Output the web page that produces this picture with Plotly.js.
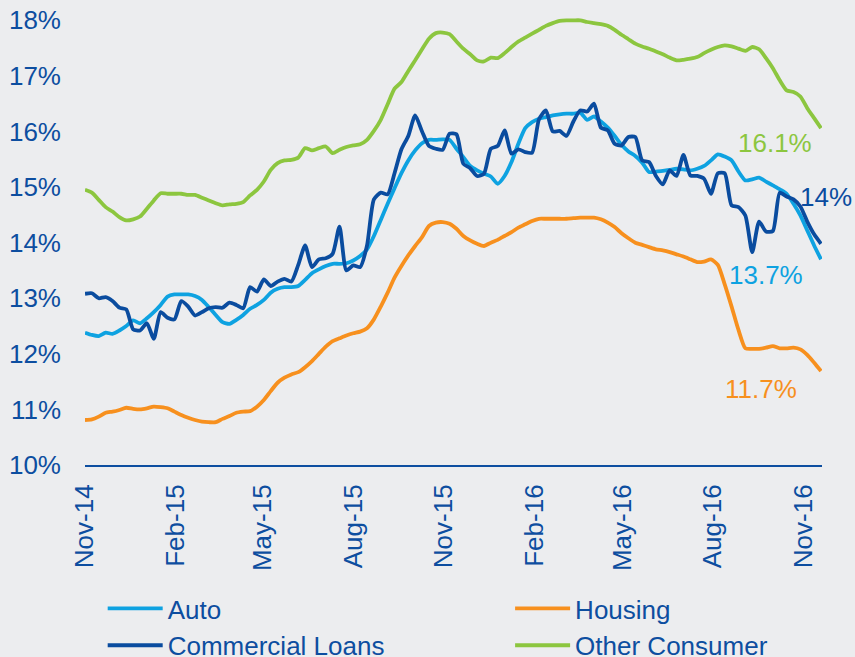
<!DOCTYPE html>
<html>
<head>
<meta charset="utf-8">
<script src="https://cdn.plot.ly/plotly-3.0.1.min.js"></script>
<style>
html,body{margin:0;padding:0;background:#ECEDEF;}
#chart{width:855px;height:657px;}
</style>
</head>
<body>
<div id="chart"></div>
<script>
// Weekly observations starting 1 Nov 2014
var startDate = '2014-11-01';
var stepDays = 7;

var auto = [12.38,12.34,12.32,12.38,12.36,12.42,12.50,12.60,12.55,12.64,
12.75,12.88,13.03,13.07,13.07,13.07,13.04,12.97,12.84,12.70,
12.57,12.54,12.61,12.70,12.81,12.88,12.97,13.10,13.17,13.20,
13.20,13.22,13.33,13.45,13.52,13.58,13.62,13.62,13.63,13.68,
13.76,13.88,14.12,14.41,14.70,14.98,15.25,15.48,15.66,15.79,
15.85,15.85,15.86,15.85,15.69,15.54,15.38,15.30,15.24,15.19,
15.06,15.20,15.45,15.78,16.06,16.17,16.23,16.26,16.29,16.31,
16.32,16.32,16.34,16.21,16.27,16.18,16.07,15.92,15.76,15.64,
15.56,15.44,15.27,15.28,15.29,15.31,15.33,15.32,15.30,15.33,
15.38,15.48,15.59,15.55,15.48,15.28,15.12,15.14,15.17,15.10,
15.03,14.96,14.88,14.70,14.49,14.22,13.95,13.70];

var housing = [10.81,10.82,10.87,10.94,10.96,10.99,11.03,11.01,11.00,11.02,
11.05,11.04,11.02,10.96,10.90,10.85,10.81,10.78,10.77,10.77,
10.83,10.88,10.94,10.96,10.97,11.05,11.17,11.33,11.48,11.57,
11.63,11.67,11.76,11.87,12.00,12.13,12.23,12.28,12.33,12.37,
12.40,12.46,12.62,12.85,13.10,13.37,13.58,13.77,13.94,14.10,
14.30,14.36,14.37,14.34,14.25,14.12,14.04,13.98,13.94,14.00,
14.05,14.12,14.19,14.27,14.33,14.39,14.43,14.43,14.43,14.43,
14.43,14.44,14.45,14.45,14.45,14.42,14.36,14.28,14.17,14.08,
14.00,13.96,13.92,13.88,13.86,13.83,13.79,13.75,13.70,13.65,
13.66,13.70,13.60,13.25,12.85,12.43,12.10,12.09,12.09,12.11,
12.14,12.10,12.10,12.11,12.08,11.98,11.84,11.69];

var commercial = [13.08,13.09,13.00,13.02,12.95,12.83,12.80,12.44,12.42,12.55,
12.27,12.75,12.65,12.62,12.95,12.85,12.69,12.75,12.82,12.84,
12.83,12.92,12.88,12.82,13.20,13.12,13.34,13.22,13.30,13.35,
13.30,13.60,13.95,13.56,13.70,13.72,13.80,14.29,13.50,13.59,
13.56,13.95,14.78,14.90,14.87,15.25,15.68,15.92,16.29,16.00,
15.74,15.69,15.67,15.96,15.95,15.42,15.34,15.20,15.24,15.69,
15.74,16.02,15.60,15.68,15.63,15.62,16.22,16.38,16.00,16.01,
15.92,16.18,16.38,16.36,16.50,16.07,16.02,15.78,15.75,15.90,
15.90,15.48,15.45,15.20,15.05,15.30,15.20,15.58,15.21,15.20,
15.15,14.88,15.25,15.25,14.67,14.64,14.49,13.83,14.38,14.20,
14.21,14.90,14.83,14.78,14.65,14.38,14.15,13.98];

var otherConsumer = [14.95,14.90,14.77,14.64,14.56,14.46,14.40,14.42,14.47,14.61,
14.76,14.89,14.88,14.88,14.88,14.86,14.86,14.81,14.76,14.71,
14.67,14.69,14.70,14.73,14.85,14.95,15.10,15.31,15.43,15.48,
15.49,15.53,15.70,15.66,15.70,15.73,15.61,15.67,15.72,15.75,
15.77,15.85,16.01,16.21,16.49,16.77,16.89,17.09,17.28,17.48,
17.67,17.77,17.78,17.75,17.62,17.49,17.39,17.28,17.26,17.33,
17.32,17.41,17.52,17.62,17.69,17.76,17.83,17.90,17.95,17.99,
18.00,18.00,18.00,17.97,17.95,17.93,17.90,17.83,17.74,17.66,
17.58,17.53,17.49,17.44,17.39,17.33,17.28,17.29,17.31,17.34,
17.41,17.47,17.52,17.55,17.53,17.49,17.45,17.52,17.48,17.32,
17.14,16.92,16.74,16.71,16.63,16.42,16.24,16.06];

var seriesNames = ['Auto', 'Housing', 'Commercial Loans', 'Other Consumer'];
var endLabels = ['13.7%', '11.7%', '14%', '16.1%'];
var yTickVals = [10, 11, 12, 13, 14, 15, 16, 17, 18];
var yTickText = ['10%', '11%', '12%', '13%', '14%', '15%', '16%', '17%', '18%'];

var colors = ['#0EA2E1', '#F7901E', '#0A4C9F', '#8CC63F'];
var textColor = '#0D4EA0';
var FONT = '"Liberation Sans", Arial, sans-serif';
var FS = 26;

function makeDates(n) {
  var out = [];
  var t0 = Date.parse(startDate + 'T00:00:00Z');
  for (var i = 0; i < n; i++) {
    out.push(new Date(t0 + i * stepDays * 86400000).toISOString().slice(0, 10));
  }
  return out;
}

var allValues = [auto, housing, commercial, otherConsumer];
var legendIds = ['legend', 'legend2', 'legend', 'legend2'];
var traces = allValues.map(function (vals, k) {
  return {
    type: 'scatter',
    mode: 'lines',
    name: seriesNames[k],
    x: makeDates(vals.length),
    y: vals,
    legend: legendIds[k],
    line: { color: colors[k], width: 3.8, shape: 'spline', smoothing: 0.6 },
    hoverinfo: 'skip'
  };
});

var shifts = [[-55, -16], [-60, -18], [5, 47], [-46, -15]];
var annotations = allValues.map(function (vals, k) {
  var d = makeDates(vals.length);
  return {
    x: d[d.length - 1], y: vals[vals.length - 1], xref: 'x', yref: 'y',
    text: endLabels[k], showarrow: false,
    xshift: shifts[k][0], yshift: shifts[k][1],
    font: { family: FONT, size: FS, color: colors[k] }
  };
});

var layout = {
  width: 855, height: 657,
  paper_bgcolor: '#ECEDEF', plot_bgcolor: '#ECEDEF',
  margin: { l: 84.5, r: 33, t: 17, b: 192, pad: 0, autoexpand: false },
  font: { family: FONT, size: FS, color: textColor },
  showlegend: true,
  xaxis: {
    type: 'date',
    range: ['2014-11-01', '2016-11-20'],
    tick0: '2014-11-01', dtick: 'M3', tickformat: '%b-%y',
    tickangle: -90,
    ticks: '', showgrid: false, zeroline: false,
    showline: true, linecolor: textColor, linewidth: 2,
    ticklabelstandoff: 7,
    tickfont: { family: FONT, size: FS, color: textColor }
  },
  yaxis: {
    range: [10, 18.06],
    tickvals: yTickVals, ticktext: yTickText,
    ticks: '', showgrid: false, zeroline: false, showline: false,
    ticklabelstandoff: 23,
    tickfont: { family: FONT, size: FS, color: textColor }
  },
  legend: {
    x: 0.024, y: -0.268, xanchor: 'left', yanchor: 'top',
    orientation: 'v', bgcolor: 'rgba(0,0,0,0)', itemwidth: 55,
    font: { family: FONT, size: FS, color: textColor }
  },
  legend2: {
    x: 0.5768, y: -0.268, xanchor: 'left', yanchor: 'top',
    orientation: 'v', bgcolor: 'rgba(0,0,0,0)', itemwidth: 55,
    font: { family: FONT, size: FS, color: textColor }
  },
  annotations: annotations
};

Plotly.newPlot('chart', traces, layout, { displayModeBar: false, staticPlot: true });
</script>
</body>
</html>
